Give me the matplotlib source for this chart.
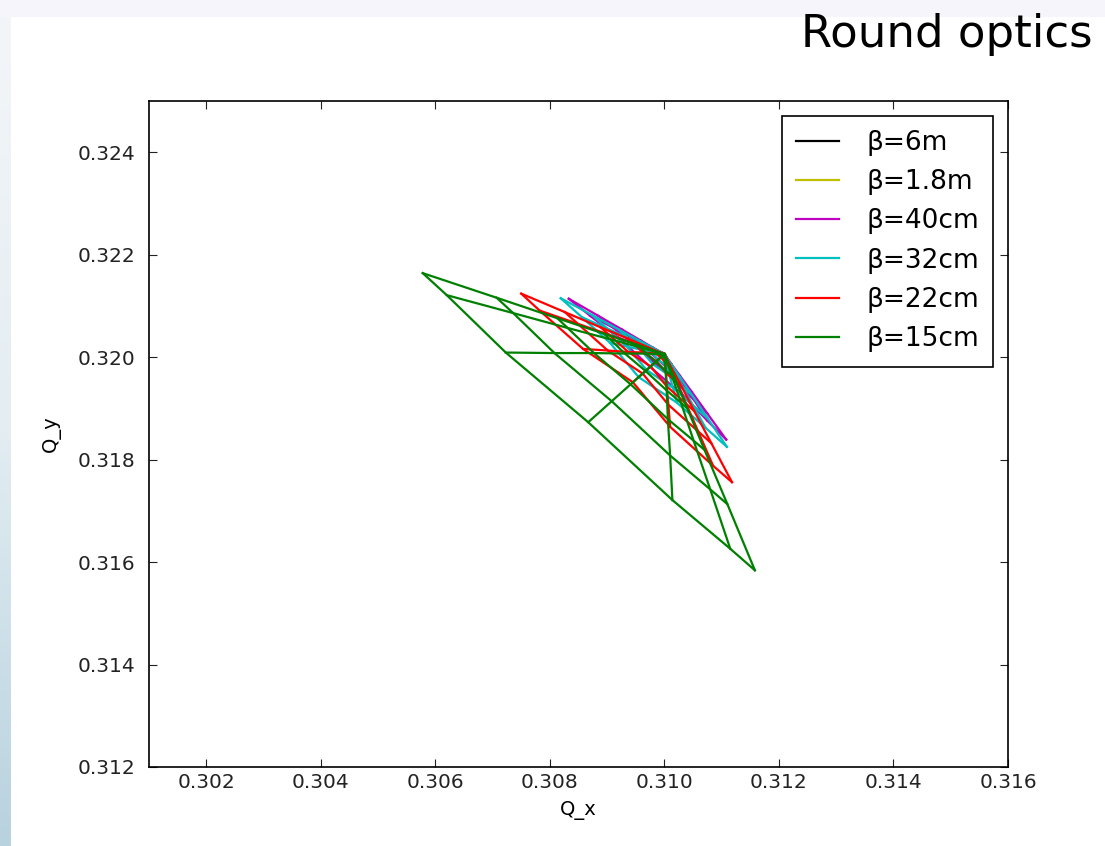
import numpy as np
import matplotlib
matplotlib.use('Agg')
import matplotlib.pyplot as plt
from matplotlib.colors import LinearSegmentedColormap
from matplotlib.ticker import FormatStrFormatter

# zero-amplitude working point
Q0X, Q0Y = 0.3100, 0.32006

# tune shifts (units of 1e-3), rows = amplitude, columns = angle 0..90 deg
DQX_6M = [[-0.01, -0.01, -0.01, 0.00, 0.00, 0.00, 0.01],
          [-0.03, -0.03, -0.02, -0.01, 0.00, 0.02, 0.02]]
DQY_6M = [[0.01, 0.00, 0.00, 0.00, -0.01, -0.01, -0.01],
          [0.02, 0.02, 0.00, -0.01, -0.02, -0.03, -0.03]]

DQX_1M8 = [[-0.03, -0.02, -0.02, -0.01, 0.00, 0.01, 0.02],
           [-0.12, -0.10, -0.06, -0.02, 0.02, 0.05, 0.07]]
DQY_1M8 = [[0.02, 0.01, 0.00, -0.01, -0.02, -0.02, -0.03],
           [0.07, 0.05, 0.02, -0.02, -0.06, -0.10, -0.12]]

DQX_40CM = [[-0.05, -0.04, -0.02, -0.01, 0.01, 0.02, 0.03],
            [-0.19, -0.14, -0.09, -0.03, 0.04, 0.08, 0.12],
            [-0.42, -0.33, -0.20, -0.06, 0.08, 0.19, 0.27],
            [-0.74, -0.58, -0.36, -0.11, 0.14, 0.33, 0.48],
            [-1.16, -0.90, -0.56, -0.17, 0.22, 0.52, 0.75],
            [-1.67, -1.30, -0.80, -0.25, 0.32, 0.75, 1.08]]
DQY_40CM = [[0.03, 0.02, 0.01, -0.01, -0.02, -0.04, -0.05],
            [0.12, 0.08, 0.04, -0.03, -0.09, -0.14, -0.19],
            [0.27, 0.19, 0.08, -0.06, -0.20, -0.33, -0.42],
            [0.48, 0.33, 0.14, -0.11, -0.36, -0.58, -0.74],
            [0.75, 0.52, 0.22, -0.17, -0.56, -0.90, -1.16],
            [1.08, 0.75, 0.32, -0.25, -0.80, -1.30, -1.67]]

DQX_32CM = [[-0.05, -0.04, -0.03, -0.01, 0.01, 0.02, 0.03],
            [-0.20, -0.16, -0.11, -0.05, 0.02, 0.08, 0.12],
            [-0.45, -0.36, -0.24, -0.11, 0.05, 0.18, 0.27],
            [-0.80, -0.64, -0.42, -0.20, 0.09, 0.32, 0.48],
            [-1.26, -1.00, -0.66, -0.31, 0.15, 0.50, 0.76],
            [-1.81, -1.44, -0.95, -0.45, 0.22, 0.72, 1.09]]
DQY_32CM = [[0.03, 0.02, 0.01, -0.01, -0.03, -0.04, -0.05],
            [0.12, 0.08, 0.02, -0.05, -0.11, -0.16, -0.20],
            [0.27, 0.18, 0.05, -0.11, -0.24, -0.36, -0.45],
            [0.48, 0.32, 0.09, -0.20, -0.42, -0.64, -0.80],
            [0.76, 0.50, 0.15, -0.31, -0.66, -1.00, -1.26],
            [1.09, 0.72, 0.22, -0.45, -0.95, -1.44, -1.81]]

DQX_22CM = [[-0.07, -0.06, -0.04, -0.02, 0.00, 0.02, 0.03],
            [-0.28, -0.24, -0.16, -0.06, 0.01, 0.09, 0.13],
            [-0.63, -0.55, -0.36, -0.14, 0.03, 0.21, 0.30],
            [-1.11, -0.97, -0.63, -0.24, 0.04, 0.38, 0.52],
            [-1.74, -1.51, -0.99, -0.38, 0.07, 0.59, 0.82],
            [-2.50, -2.18, -1.42, -0.55, 0.10, 0.85, 1.18]]
DQY_22CM = [[0.03, 0.02, 0.00, -0.02, -0.04, -0.06, -0.07],
            [0.13, 0.09, 0.01, -0.06, -0.16, -0.24, -0.28],
            [0.30, 0.21, 0.03, -0.14, -0.36, -0.55, -0.63],
            [0.52, 0.38, 0.04, -0.24, -0.63, -0.97, -1.11],
            [0.82, 0.59, 0.07, -0.38, -0.99, -1.51, -1.74],
            [1.18, 0.85, 0.10, -0.55, -1.42, -2.18, -2.50]]

DQX_15CM = [[-0.12, -0.11, -0.08, -0.04, 0.00, 0.03, 0.04],
            [-0.47, -0.42, -0.31, -0.15, 0.02, 0.13, 0.18],
            [-1.06, -0.95, -0.69, -0.33, 0.04, 0.29, 0.40],
            [-1.87, -1.69, -1.23, -0.59, 0.06, 0.51, 0.70],
            [-2.93, -2.64, -1.92, -0.92, 0.10, 0.80, 1.10],
            [-4.22, -3.80, -2.77, -1.33, 0.14, 1.15, 1.58]]
DQY_15CM = [[0.04, 0.03, 0.00, -0.04, -0.08, -0.11, -0.12],
            [0.18, 0.13, 0.01, -0.15, -0.32, -0.42, -0.47],
            [0.40, 0.29, 0.01, -0.33, -0.71, -0.95, -1.06],
            [0.70, 0.51, 0.02, -0.59, -1.27, -1.69, -1.87],
            [1.10, 0.80, 0.02, -0.92, -1.98, -2.64, -2.93],
            [1.58, 1.15, 0.03, -1.33, -2.85, -3.80, -4.22]]

LABELS = ['β=6m', 'β=1.8m', 'β=40cm', 'β=32cm', 'β=22cm', 'β=15cm']
COLORS = ['k', 'y', 'm', 'c', 'r', 'g']
SHIFTS = [(DQX_6M, DQY_6M), (DQX_1M8, DQY_1M8), (DQX_40CM, DQY_40CM),
          (DQX_32CM, DQY_32CM), (DQX_22CM, DQY_22CM), (DQX_15CM, DQY_15CM)]


def draw_footprint(ax, dqx, dqy, color, label):
    qx = Q0X + 1e-3 * np.array(dqx)
    qy = Q0Y + 1e-3 * np.array(dqy)
    lw = 1.6
    for rx, ry in zip(qx, qy):
        ax.plot(rx, ry, color=color, lw=lw)
    for j in range(qx.shape[1]):
        ax.plot(np.r_[Q0X, qx[:, j]], np.r_[Q0Y, qy[:, j]], color=color, lw=lw)
    ax.plot([], [], color=color, lw=lw, label=label)


W, H = 1105, 846
fig = plt.figure(figsize=(W / 100, H / 100), dpi=100)
fig.patch.set_facecolor('white')

# slide decoration: faint top band and bluish left strip
top = fig.add_axes([0, 1 - 17 / H, 1, 17 / H])
top.set_axis_off()
top.add_patch(plt.Rectangle((0, 0), 1, 1, color='#f5f5fb', transform=top.transAxes))
left = fig.add_axes([0, 0, 10 / W, 1 - 17 / H])
grad = np.linspace(0, 1, 256)[:, None]
cmap = LinearSegmentedColormap.from_list('strip', ['#f3f6f9', '#e3edf2', '#b8d2de'])
left.imshow(grad, aspect='auto', cmap=cmap, extent=[0, 1, 0, 1])
left.set_axis_off()

ax = fig.add_axes([149 / W, 1 - 767 / H, (1008 - 149) / W, (767 - 101) / H])
for (dqx, dqy), c, lab in zip(SHIFTS, COLORS, LABELS):
    draw_footprint(ax, dqx, dqy, c, lab)

ax.set_xlim(0.301, 0.316)
ax.set_ylim(0.312, 0.325)
ax.set_xticks(np.arange(0.302, 0.3161, 0.002))
ax.set_yticks(np.arange(0.312, 0.3241, 0.002))
ax.xaxis.set_major_formatter(FormatStrFormatter('%.3f'))
ax.yaxis.set_major_formatter(FormatStrFormatter('%.3f'))
ax.tick_params(direction='in', length=6, width=0.8, top=True, right=True,
               labelsize=14.5, colors='#222222')
ax.tick_params(axis='x', pad=4)
ax.tick_params(axis='y', pad=10)
for s in ax.spines.values():
    s.set_linewidth(1.2)
ax.set_xlabel('Q_x', fontsize=14, labelpad=7)
ax.set_ylabel('Q_y', fontsize=14, labelpad=12)

leg = ax.legend(loc='upper right', fontsize=19, fancybox=False,
                edgecolor='black', framealpha=1, borderaxespad=0.55,
                handlelength=1.6, handletextpad=1.05, labelspacing=0.5,
                borderpad=0.55)
leg.get_frame().set_linewidth(1.2)

fig.text(1093 / W, 1 - 47 / H, 'Round optics', ha='right', va='baseline',
         fontsize=32.4, family='DejaVu Sans')

fig.savefig('out.png', dpi=100)
